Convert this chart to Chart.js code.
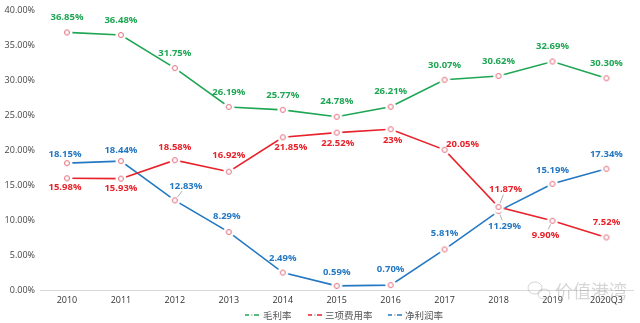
<!DOCTYPE html>
<html><head><meta charset="utf-8">
<script src="https://cdn.jsdelivr.net/npm/chart.js@4"></script>
<style>html,body{margin:0;padding:0;background:#fff}#w{width:640px;height:323px}</style>
</head><body><div id="w"><canvas id="c" width="640" height="323"></canvas></div>
<script>
const years=['2010','2011','2012','2013','2014','2015','2016','2017','2018','2019','2020Q3'];
const grossMargin=[36.85,36.48,31.75,26.19,25.77,24.78,26.21,30.07,30.62,32.69,30.30];
const expenseRatio=[15.98,15.93,18.58,16.92,21.85,22.52,23,20.05,11.87,9.90,7.52];
const netMargin=[18.15,18.44,12.83,8.29,2.49,0.59,0.70,5.81,11.29,15.19,17.34];
const seriesNames=['毛利率','三项费用率','净利润率'];
const yMin=0,yMax=40,yStep=5;

const colors=['#1fa654','#e8222a','#2478c2'];
// label placement (dx,dy of text centre from point) and leader flags
const labelOffsets=[
  [[0,-15],[0,-15],[0,-15],[0,-15],[0,-15],[0,-15],[0,-15],[0,-15],[0,-15],[0,-15],[0,-15]],
  [[-2,9],[0,10],[0,-13],[0,-16],[8,10],[1,11],[2,11],[18,-6],[7,-18],[-7,14],[0,-15]],
  [[-2,-9],[0,-11],[11,-14],[-2,-16],[0,-14],[0,-14],[0,-16],[0,-16],[6,15],[0,-14],[0,-14]]
];
const leaders=[[],[8,9],[2,8]];

function marker(){
  const c=document.createElement('canvas');c.width=12;c.height=12;
  const x=c.getContext('2d');
  x.fillStyle='#fff';x.beginPath();x.arc(6,6,5.5,0,Math.PI*2);x.fill();
  x.strokeStyle='#e46a7a';x.lineWidth=1;x.beginPath();x.arc(6,6,2.5,0,Math.PI*2);x.stroke();
  return c;
}
const mk=marker();
const fmt=v=>Number.isInteger(v)?v+'%':v.toFixed(2)+'%';

const labelPlugin={id:'lbl',afterDatasetsDraw(chart){
  const ctx=chart.ctx;ctx.save();
  ctx.font='bold 9.5px "Open Sans", sans-serif';ctx.textAlign='center';ctx.textBaseline='middle';
  chart.data.datasets.forEach((ds,di)=>{
    const meta=chart.getDatasetMeta(di);
    meta.data.forEach((pt,i)=>{
      const [dx,dy]=labelOffsets[di][i];
      const lx=pt.x+dx,ly=pt.y+dy;
      if(leaders[di].includes(i)){
        const d=Math.hypot(dx,dy),ux=dx/d,uy=dy/d;
        ctx.strokeStyle='#b0b0b0';ctx.lineWidth=1;ctx.beginPath();
        ctx.moveTo(pt.x+ux*4,pt.y+uy*4);ctx.lineTo(pt.x+ux*(d-6),pt.y+uy*(d-6));ctx.stroke();
      }
      ctx.fillStyle=colors[di];
      ctx.fillText(fmt(ds.data[i]),lx,ly);
    });
  });
  ctx.restore();
}};

const legendPlugin={id:'leg',afterDraw(chart){
  const ctx=chart.ctx;ctx.save();
  const items=[[245,263],[308,325],[388,405]];
  ctx.font='9.5px "Noto Sans CJK SC", sans-serif';ctx.textBaseline='middle';ctx.textAlign='left';
  items.forEach(([ix,tx],k)=>{
    const y=315;
    ctx.strokeStyle=colors[k];ctx.lineWidth=1.5;
    ctx.beginPath();ctx.moveTo(ix,y);ctx.lineTo(ix+4,y);ctx.moveTo(ix+9,y);ctx.lineTo(ix+14,y);ctx.stroke();
    ctx.fillStyle='#bbb';ctx.fillRect(ix+6,y-0.7,1.5,1.5);
    ctx.fillStyle='#555';ctx.fillText(seriesNames[k],tx,y);
  });
  // watermark
  ctx.globalAlpha=0.3;ctx.strokeStyle='#777';ctx.lineWidth=1;
  ctx.beginPath();ctx.ellipse(535,288,7,6,0,0,Math.PI*2);ctx.stroke();
  ctx.beginPath();ctx.ellipse(544,294,6,5,0,0,Math.PI*2);ctx.stroke();
  ctx.fillStyle='#777';ctx.font='18px "Noto Sans CJK SC", sans-serif';
  ctx.fillText('价值港湾',555,291);
  ctx.restore();
}};

const ds=[grossMargin,expenseRatio,netMargin].map((d,i)=>({
  label:seriesNames[i],data:d,borderColor:colors[i],backgroundColor:colors[i],
  borderWidth:1.6,tension:0,pointStyle:mk,pointRadius:5,pointHoverRadius:5,fill:false
}));

new Chart(document.getElementById('c'),{
  type:'line',
  data:{labels:years,datasets:ds},
  options:{
    responsive:false,animation:false,devicePixelRatio:1,
    layout:{padding:{top:10,right:0,bottom:0,left:0}},
    plugins:{legend:{display:false},tooltip:{enabled:false}},
    scales:{
      x:{offset:true,grid:{display:false,drawTicks:false},border:{display:true,color:'#d9d9d9',width:1},
         ticks:{color:'#333',font:{size:9,family:'"Open Sans", sans-serif'},padding:5,maxRotation:0},
         afterFit(s){s.height=33;}},
      y:{min:yMin,max:yMax,grid:{display:false,drawTicks:false},border:{display:false},
         ticks:{stepSize:yStep,color:'#444',font:{size:9,family:'"Open Sans", sans-serif'},padding:5,
           callback:v=>v.toFixed(2)+'%'},
         afterFit(s){s.width=40;}}
    }
  },
  plugins:[labelPlugin,legendPlugin]
});
</script></body></html>
